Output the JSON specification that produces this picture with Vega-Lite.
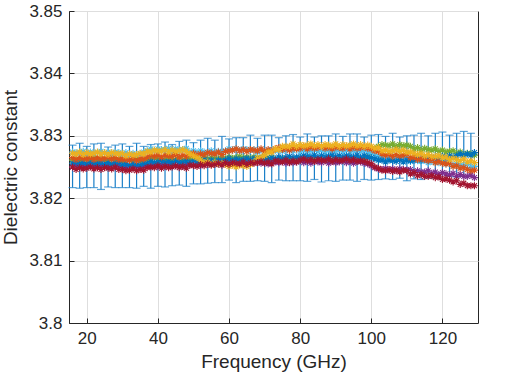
{
  "$schema": "https://vega.github.io/schema/vega-lite/v6.json",
  "autosize": {"type": "none"},
  "padding": {"left": 69, "top": 11, "right": 51, "bottom": 55},
  "width": 409,
  "height": 312,
  "background": "white",
  "config": {
    "view": {"stroke": "#262626", "strokeWidth": 1},
    "font": "Liberation Sans",
    "axis": {
      "labelFont": "Liberation Sans",
      "titleFont": "Liberation Sans",
      "labelFontSize": 17,
      "titleFontSize": 19,
      "titleFontWeight": "normal",
      "labelColor": "#262626",
      "titleColor": "#262626",
      "domainColor": "#262626",
      "tickColor": "#262626",
      "tickSize": -5,
      "gridColor": "#DEDEDE",
      "gridWidth": 1
    }
  },
  "datasets": {
    "pts": [
      {"f":16,"b":3.8256,"o":3.8265,"y":3.8272,"p":3.8250,"g":3.8261,"c":3.8274,"r":3.8250},
      {"f":17,"b":3.8258,"o":3.8262,"y":3.8271,"p":3.8253,"g":3.8263,"c":3.8273,"r":3.8246},
      {"f":18,"b":3.8255,"o":3.8265,"y":3.8274,"p":3.8251,"g":3.8260,"c":3.8272,"r":3.8249},
      {"f":19,"b":3.8257,"o":3.8264,"y":3.8270,"p":3.8252,"g":3.8263,"c":3.8275,"r":3.8247},
      {"f":20,"b":3.8254,"o":3.8263,"y":3.8273,"p":3.8254,"g":3.8262,"c":3.8271,"r":3.8248},
      {"f":21,"b":3.8257,"o":3.8266,"y":3.8271,"p":3.8251,"g":3.8261,"c":3.8274,"r":3.8250},
      {"f":22,"b":3.8256,"o":3.8262,"y":3.8272,"p":3.8253,"g":3.8264,"c":3.8272,"r":3.8247},
      {"f":23,"b":3.8255,"o":3.8265,"y":3.8274,"p":3.8250,"g":3.8260,"c":3.8273,"r":3.8249},
      {"f":24,"b":3.8258,"o":3.8263,"y":3.8271,"p":3.8253,"g":3.8263,"c":3.8275,"r":3.8246},
      {"f":25,"b":3.8254,"o":3.8264,"y":3.8273,"p":3.8252,"g":3.8261,"c":3.8272,"r":3.8249},
      {"f":26,"b":3.8257,"o":3.8266,"y":3.8270,"p":3.8251,"g":3.8262,"c":3.8274,"r":3.8248},
      {"f":27,"b":3.8255,"o":3.8263,"y":3.8273,"p":3.8254,"g":3.8264,"c":3.8271,"r":3.8247},
      {"f":28,"b":3.8256,"o":3.8265,"y":3.8272,"p":3.8250,"g":3.8261,"c":3.8274,"r":3.8250},
      {"f":29,"b":3.8258,"o":3.8262,"y":3.8271,"p":3.8253,"g":3.8263,"c":3.8273,"r":3.8246},
      {"f":30,"b":3.8253,"o":3.8263,"y":3.8272,"p":3.8249,"g":3.8259,"c":3.8270,"r":3.8246},
      {"f":31,"b":3.8255,"o":3.8262,"y":3.8268,"p":3.8250,"g":3.8262,"c":3.8273,"r":3.8244},
      {"f":32,"b":3.8252,"o":3.8261,"y":3.8271,"p":3.8252,"g":3.8261,"c":3.8269,"r":3.8245},
      {"f":33,"b":3.8255,"o":3.8264,"y":3.8269,"p":3.8249,"g":3.8260,"c":3.8272,"r":3.8247},
      {"f":34,"b":3.8254,"o":3.8260,"y":3.8270,"p":3.8251,"g":3.8263,"c":3.8270,"r":3.8244},
      {"f":35,"b":3.8253,"o":3.8263,"y":3.8272,"p":3.8248,"g":3.8259,"c":3.8271,"r":3.8246},
      {"f":36,"b":3.8256,"o":3.8263,"y":3.8271,"p":3.8251,"g":3.8262,"c":3.8274,"r":3.8245},
      {"f":37,"b":3.8256,"o":3.8266,"y":3.8275,"p":3.8253,"g":3.8262,"c":3.8276,"r":3.8249},
      {"f":38,"b":3.8259,"o":3.8269,"y":3.8274,"p":3.8252,"g":3.8263,"c":3.8279,"r":3.8250},
      {"f":39,"b":3.8257,"o":3.8267,"y":3.8277,"p":3.8255,"g":3.8265,"c":3.8276,"r":3.8249},
      {"f":40,"b":3.8258,"o":3.8269,"y":3.8276,"p":3.8251,"g":3.8262,"c":3.8279,"r":3.8252},
      {"f":41,"b":3.8260,"o":3.8266,"y":3.8275,"p":3.8254,"g":3.8264,"c":3.8278,"r":3.8248},
      {"f":42,"b":3.8257,"o":3.8269,"y":3.8278,"p":3.8252,"g":3.8261,"c":3.8277,"r":3.8251},
      {"f":43,"b":3.8259,"o":3.8268,"y":3.8274,"p":3.8253,"g":3.8264,"c":3.8280,"r":3.8249},
      {"f":44,"b":3.8256,"o":3.8267,"y":3.8277,"p":3.8255,"g":3.8263,"c":3.8276,"r":3.8250},
      {"f":45,"b":3.8259,"o":3.8270,"y":3.8275,"p":3.8252,"g":3.8262,"c":3.8279,"r":3.8252},
      {"f":46,"b":3.8258,"o":3.8266,"y":3.8276,"p":3.8254,"g":3.8265,"c":3.8277,"r":3.8249},
      {"f":47,"b":3.8257,"o":3.8269,"y":3.8278,"p":3.8251,"g":3.8261,"c":3.8278,"r":3.8251},
      {"f":48,"b":3.8260,"o":3.8267,"y":3.8275,"p":3.8254,"g":3.8264,"c":3.8280,"r":3.8248},
      {"f":49,"b":3.8257,"o":3.8270,"y":3.8271,"p":3.8254,"g":3.8263,"c":3.8274,"r":3.8253},
      {"f":50,"b":3.8260,"o":3.8272,"y":3.8268,"p":3.8253,"g":3.8264,"c":3.8276,"r":3.8252},
      {"f":51,"b":3.8258,"o":3.8269,"y":3.8265,"p":3.8256,"g":3.8266,"c":3.8273,"r":3.8251},
      {"f":52,"b":3.8259,"o":3.8271,"y":3.8261,"p":3.8252,"g":3.8263,"c":3.8276,"r":3.8254},
      {"f":53,"b":3.8262,"o":3.8270,"y":3.8257,"p":3.8256,"g":3.8265,"c":3.8274,"r":3.8252},
      {"f":54,"b":3.8259,"o":3.8273,"y":3.8258,"p":3.8254,"g":3.8262,"c":3.8273,"r":3.8255},
      {"f":55,"b":3.8261,"o":3.8272,"y":3.8254,"p":3.8255,"g":3.8265,"c":3.8276,"r":3.8253},
      {"f":56,"b":3.8258,"o":3.8271,"y":3.8257,"p":3.8257,"g":3.8264,"c":3.8272,"r":3.8254},
      {"f":57,"b":3.8261,"o":3.8274,"y":3.8255,"p":3.8254,"g":3.8263,"c":3.8275,"r":3.8256},
      {"f":58,"b":3.8260,"o":3.8270,"y":3.8256,"p":3.8256,"g":3.8266,"c":3.8273,"r":3.8253},
      {"f":59,"b":3.8261,"o":3.8275,"y":3.8254,"p":3.8254,"g":3.8263,"c":3.8276,"r":3.8257},
      {"f":60,"b":3.8264,"o":3.8276,"y":3.8251,"p":3.8257,"g":3.8266,"c":3.8279,"r":3.8254},
      {"f":61,"b":3.8260,"o":3.8277,"y":3.8253,"p":3.8256,"g":3.8264,"c":3.8277,"r":3.8257},
      {"f":62,"b":3.8263,"o":3.8279,"y":3.8250,"p":3.8255,"g":3.8265,"c":3.8279,"r":3.8256},
      {"f":63,"b":3.8261,"o":3.8276,"y":3.8253,"p":3.8258,"g":3.8267,"c":3.8276,"r":3.8255},
      {"f":64,"b":3.8262,"o":3.8278,"y":3.8252,"p":3.8254,"g":3.8264,"c":3.8279,"r":3.8258},
      {"f":65,"b":3.8264,"o":3.8275,"y":3.8251,"p":3.8257,"g":3.8266,"c":3.8278,"r":3.8254},
      {"f":66,"b":3.8261,"o":3.8278,"y":3.8254,"p":3.8255,"g":3.8263,"c":3.8277,"r":3.8257},
      {"f":67,"b":3.8264,"o":3.8277,"y":3.8258,"p":3.8257,"g":3.8266,"c":3.8278,"r":3.8256},
      {"f":68,"b":3.8261,"o":3.8276,"y":3.8264,"p":3.8259,"g":3.8265,"c":3.8274,"r":3.8257},
      {"f":69,"b":3.8264,"o":3.8279,"y":3.8265,"p":3.8256,"g":3.8264,"c":3.8277,"r":3.8259},
      {"f":70,"b":3.8263,"o":3.8275,"y":3.8269,"p":3.8258,"g":3.8267,"c":3.8275,"r":3.8256},
      {"f":71,"b":3.8262,"o":3.8278,"y":3.8274,"p":3.8255,"g":3.8263,"c":3.8276,"r":3.8258},
      {"f":72,"b":3.8265,"o":3.8276,"y":3.8274,"p":3.8258,"g":3.8266,"c":3.8278,"r":3.8255},
      {"f":73,"b":3.8263,"o":3.8279,"y":3.8279,"p":3.8258,"g":3.8261,"c":3.8276,"r":3.8260},
      {"f":74,"b":3.8266,"o":3.8281,"y":3.8278,"p":3.8257,"g":3.8262,"c":3.8278,"r":3.8259},
      {"f":75,"b":3.8264,"o":3.8278,"y":3.8283,"p":3.8260,"g":3.8264,"c":3.8275,"r":3.8258},
      {"f":76,"b":3.8265,"o":3.8280,"y":3.8283,"p":3.8256,"g":3.8261,"c":3.8278,"r":3.8261},
      {"f":77,"b":3.8267,"o":3.8277,"y":3.8283,"p":3.8259,"g":3.8263,"c":3.8277,"r":3.8257},
      {"f":78,"b":3.8264,"o":3.8280,"y":3.8287,"p":3.8257,"g":3.8260,"c":3.8276,"r":3.8260},
      {"f":79,"b":3.8266,"o":3.8279,"y":3.8283,"p":3.8258,"g":3.8263,"c":3.8279,"r":3.8258},
      {"f":80,"b":3.8265,"o":3.8280,"y":3.8286,"p":3.8260,"g":3.8261,"c":3.8274,"r":3.8261},
      {"f":81,"b":3.8268,"o":3.8283,"y":3.8284,"p":3.8257,"g":3.8260,"c":3.8277,"r":3.8263},
      {"f":82,"b":3.8267,"o":3.8279,"y":3.8285,"p":3.8259,"g":3.8263,"c":3.8275,"r":3.8260},
      {"f":83,"b":3.8266,"o":3.8282,"y":3.8287,"p":3.8256,"g":3.8259,"c":3.8276,"r":3.8262},
      {"f":84,"b":3.8269,"o":3.8280,"y":3.8284,"p":3.8259,"g":3.8262,"c":3.8278,"r":3.8259},
      {"f":85,"b":3.8265,"o":3.8281,"y":3.8286,"p":3.8258,"g":3.8260,"c":3.8275,"r":3.8262},
      {"f":86,"b":3.8268,"o":3.8283,"y":3.8283,"p":3.8257,"g":3.8261,"c":3.8277,"r":3.8261},
      {"f":87,"b":3.8266,"o":3.8280,"y":3.8286,"p":3.8260,"g":3.8263,"c":3.8274,"r":3.8260},
      {"f":88,"b":3.8267,"o":3.8282,"y":3.8285,"p":3.8256,"g":3.8260,"c":3.8277,"r":3.8263},
      {"f":89,"b":3.8269,"o":3.8279,"y":3.8284,"p":3.8259,"g":3.8262,"c":3.8276,"r":3.8259},
      {"f":90,"b":3.8266,"o":3.8282,"y":3.8287,"p":3.8257,"g":3.8259,"c":3.8275,"r":3.8262},
      {"f":91,"b":3.8268,"o":3.8281,"y":3.8283,"p":3.8258,"g":3.8262,"c":3.8278,"r":3.8260},
      {"f":92,"b":3.8265,"o":3.8280,"y":3.8286,"p":3.8260,"g":3.8261,"c":3.8274,"r":3.8261},
      {"f":93,"b":3.8268,"o":3.8283,"y":3.8284,"p":3.8257,"g":3.8260,"c":3.8277,"r":3.8263},
      {"f":94,"b":3.8267,"o":3.8279,"y":3.8285,"p":3.8259,"g":3.8263,"c":3.8275,"r":3.8260},
      {"f":95,"b":3.8266,"o":3.8282,"y":3.8287,"p":3.8256,"g":3.8259,"c":3.8276,"r":3.8262},
      {"f":96,"b":3.8269,"o":3.8280,"y":3.8284,"p":3.8259,"g":3.8262,"c":3.8278,"r":3.8259},
      {"f":97,"b":3.8265,"o":3.8281,"y":3.8286,"p":3.8258,"g":3.8260,"c":3.8275,"r":3.8260},
      {"f":98,"b":3.8268,"o":3.8282,"y":3.8283,"p":3.8256,"g":3.8263,"c":3.8277,"r":3.8259},
      {"f":99,"b":3.8266,"o":3.8280,"y":3.8285,"p":3.8255,"g":3.8267,"c":3.8274,"r":3.8257},
      {"f":100,"b":3.8265,"o":3.8279,"y":3.8283,"p":3.8252,"g":3.8273,"c":3.8273,"r":3.8255},
      {"f":101,"b":3.8263,"o":3.8276,"y":3.8280,"p":3.8249,"g":3.8280,"c":3.8270,"r":3.8250},
      {"f":102,"b":3.8261,"o":3.8275,"y":3.8281,"p":3.8247,"g":3.8283,"c":3.8267,"r":3.8248},
      {"f":103,"b":3.8261,"o":3.8271,"y":3.8276,"p":3.8246,"g":3.8286,"c":3.8266,"r":3.8245},
      {"f":104,"b":3.8258,"o":3.8269,"y":3.8277,"p":3.8248,"g":3.8285,"c":3.8262,"r":3.8244},
      {"f":105,"b":3.8261,"o":3.8271,"y":3.8275,"p":3.8245,"g":3.8284,"c":3.8265,"r":3.8246},
      {"f":106,"b":3.8260,"o":3.8267,"y":3.8276,"p":3.8247,"g":3.8287,"c":3.8263,"r":3.8243},
      {"f":107,"b":3.8259,"o":3.8270,"y":3.8278,"p":3.8244,"g":3.8283,"c":3.8264,"r":3.8245},
      {"f":108,"b":3.8262,"o":3.8268,"y":3.8275,"p":3.8247,"g":3.8286,"c":3.8266,"r":3.8242},
      {"f":109,"b":3.8258,"o":3.8269,"y":3.8277,"p":3.8246,"g":3.8284,"c":3.8263,"r":3.8245},
      {"f":110,"b":3.8261,"o":3.8271,"y":3.8274,"p":3.8245,"g":3.8285,"c":3.8265,"r":3.8244},
      {"f":111,"b":3.8260,"o":3.8265,"y":3.8274,"p":3.8246,"g":3.8283,"c":3.8259,"r":3.8239},
      {"f":112,"b":3.8261,"o":3.8266,"y":3.8272,"p":3.8242,"g":3.8279,"c":3.8262,"r":3.8241},
      {"f":113,"b":3.8264,"o":3.8262,"y":3.8270,"p":3.8244,"g":3.8281,"c":3.8260,"r":3.8236},
      {"f":114,"b":3.8261,"o":3.8264,"y":3.8272,"p":3.8242,"g":3.8277,"c":3.8259,"r":3.8238},
      {"f":115,"b":3.8264,"o":3.8262,"y":3.8268,"p":3.8242,"g":3.8280,"c":3.8261,"r":3.8235},
      {"f":116,"b":3.8261,"o":3.8260,"y":3.8270,"p":3.8244,"g":3.8278,"c":3.8257,"r":3.8235},
      {"f":117,"b":3.8265,"o":3.8262,"y":3.8267,"p":3.8240,"g":3.8277,"c":3.8259,"r":3.8236},
      {"f":118,"b":3.8264,"o":3.8257,"y":3.8267,"p":3.8242,"g":3.8279,"c":3.8257,"r":3.8233},
      {"f":119,"b":3.8264,"o":3.8259,"y":3.8268,"p":3.8238,"g":3.8275,"c":3.8257,"r":3.8234},
      {"f":120,"b":3.8267,"o":3.8256,"y":3.8265,"p":3.8241,"g":3.8277,"c":3.8259,"r":3.8230},
      {"f":121,"b":3.8264,"o":3.8255,"y":3.8266,"p":3.8239,"g":3.8274,"c":3.8255,"r":3.8231},
      {"f":122,"b":3.8268,"o":3.8256,"y":3.8262,"p":3.8237,"g":3.8275,"c":3.8256,"r":3.8229},
      {"f":123,"b":3.8266,"o":3.8251,"y":3.8264,"p":3.8240,"g":3.8276,"c":3.8253,"r":3.8226},
      {"f":124,"b":3.8268,"o":3.8252,"y":3.8262,"p":3.8235,"g":3.8272,"c":3.8255,"r":3.8228},
      {"f":125,"b":3.8271,"o":3.8248,"y":3.8260,"p":3.8238,"g":3.8274,"c":3.8253,"r":3.8222},
      {"f":126,"b":3.8269,"o":3.8249,"y":3.8263,"p":3.8235,"g":3.8270,"c":3.8252,"r":3.8224},
      {"f":127,"b":3.8271,"o":3.8246,"y":3.8258,"p":3.8235,"g":3.8272,"c":3.8254,"r":3.8220},
      {"f":128,"b":3.8269,"o":3.8244,"y":3.8260,"p":3.8237,"g":3.8271,"c":3.8249,"r":3.8220},
      {"f":129,"b":3.8273,"o":3.8245,"y":3.8257,"p":3.8233,"g":3.8269,"c":3.8251,"r":3.8220}
    ],
    "err": [
      {"f":16,"lo":3.8217,"hi":3.8285},{"f":18,"lo":3.8216,"hi":3.8288},{"f":20,"lo":3.8217,"hi":3.8283},
      {"f":22,"lo":3.8217,"hi":3.8287},{"f":24,"lo":3.8214,"hi":3.8288},{"f":26,"lo":3.8218,"hi":3.8282},
      {"f":28,"lo":3.8217,"hi":3.8285},{"f":30,"lo":3.8217,"hi":3.8287},{"f":32,"lo":3.8217,"hi":3.8283},
      {"f":34,"lo":3.8216,"hi":3.8288},{"f":36,"lo":3.8219,"hi":3.8283},{"f":38,"lo":3.8216,"hi":3.8286},
      {"f":40,"lo":3.8219,"hi":3.8287},{"f":42,"lo":3.8218,"hi":3.8290},{"f":44,"lo":3.8220,"hi":3.8286},
      {"f":46,"lo":3.8221,"hi":3.8291},{"f":48,"lo":3.8219,"hi":3.8293},{"f":50,"lo":3.8223,"hi":3.8289},
      {"f":52,"lo":3.8223,"hi":3.8293},{"f":54,"lo":3.8224,"hi":3.8296},{"f":56,"lo":3.8225,"hi":3.8293},
      {"f":58,"lo":3.8225,"hi":3.8299},{"f":60,"lo":3.8229,"hi":3.8295},{"f":62,"lo":3.8225,"hi":3.8297},
      {"f":64,"lo":3.8227,"hi":3.8297},{"f":66,"lo":3.8227,"hi":3.8301},{"f":68,"lo":3.8228,"hi":3.8296},
      {"f":70,"lo":3.8227,"hi":3.8301},{"f":72,"lo":3.8225,"hi":3.8301},{"f":74,"lo":3.8229,"hi":3.8297},
      {"f":76,"lo":3.8228,"hi":3.8300},{"f":78,"lo":3.8228,"hi":3.8302},{"f":80,"lo":3.8228,"hi":3.8298},
      {"f":82,"lo":3.8227,"hi":3.8303},{"f":84,"lo":3.8230,"hi":3.8298},{"f":86,"lo":3.8226,"hi":3.8300},
      {"f":88,"lo":3.8228,"hi":3.8300},{"f":90,"lo":3.8227,"hi":3.8303},{"f":92,"lo":3.8229,"hi":3.8299},
      {"f":94,"lo":3.8229,"hi":3.8303},{"f":96,"lo":3.8227,"hi":3.8303},{"f":98,"lo":3.8230,"hi":3.8298},
      {"f":100,"lo":3.8229,"hi":3.8301},{"f":102,"lo":3.8230,"hi":3.8302},{"f":104,"lo":3.8231,"hi":3.8299},
      {"f":106,"lo":3.8230,"hi":3.8304},{"f":108,"lo":3.8232,"hi":3.8298},{"f":110,"lo":3.8228,"hi":3.8300},
      {"f":112,"lo":3.8231,"hi":3.8301},{"f":114,"lo":3.8230,"hi":3.8304},{"f":116,"lo":3.8232,"hi":3.8300},
      {"f":118,"lo":3.8232,"hi":3.8304},{"f":120,"lo":3.8230,"hi":3.8306},{"f":122,"lo":3.8235,"hi":3.8301},
      {"f":124,"lo":3.8234,"hi":3.8304},{"f":126,"lo":3.8235,"hi":3.8307},{"f":128,"lo":3.8236,"hi":3.8304}
    ]
  },
  "encoding": {
    "x": {
      "field": "f", "type": "quantitative",
      "scale": {"domain": [15, 130], "nice": false, "zero": false},
      "axis": {"title": "Frequency (GHz)", "values": [20, 40, 60, 80, 100, 120], "grid": true, "labelPadding": 12, "titlePadding": 6}
    }
  },
  "layer": [
    {
      "data": {"name": "err"},
      "mark": {"type": "rule", "color": "#1A7FC8", "strokeWidth": 1.2},
      "encoding": {
        "y": {"field": "lo", "type": "quantitative",
          "scale": {"domain": [3.8, 3.85], "nice": false, "zero": false},
          "axis": {"title": "Dielectric constant", "values": [3.8, 3.81, 3.82, 3.83, 3.84, 3.85], "format": ".3~g", "grid": true, "labelPadding": 12, "titlePadding": 8}},
        "y2": {"field": "hi"}
      }
    },
    {
      "data": {"name": "err"},
      "mark": {"type": "tick", "orient": "horizontal", "color": "#1A7FC8", "size": 8, "thickness": 1.2},
      "encoding": {"y": {"field": "lo", "type": "quantitative"}}
    },
    {
      "data": {"name": "err"},
      "mark": {"type": "tick", "orient": "horizontal", "color": "#1A7FC8", "size": 8, "thickness": 1.2},
      "encoding": {"y": {"field": "hi", "type": "quantitative"}}
    },
    {
      "data": {"name": "pts"},
      "mark": {"type": "point", "shape": "M-1,0H1M0,-1V1M-0.7,-0.7L0.7,0.7M-0.7,0.7L0.7,-0.7", "filled": false, "size": 50, "strokeWidth": 1.1, "opacity": 1, "color": "#77AC30"},
      "encoding": {"y": {"field": "g", "type": "quantitative"}}
    },
    {
      "data": {"name": "pts"},
      "mark": {"type": "point", "shape": "M-1,0H1M0,-1V1M-0.7,-0.7L0.7,0.7M-0.7,0.7L0.7,-0.7", "filled": false, "size": 50, "strokeWidth": 1.1, "opacity": 1, "color": "#7E2F8E"},
      "encoding": {"y": {"field": "p", "type": "quantitative"}}
    },
    {
      "data": {"name": "pts"},
      "mark": {"type": "point", "shape": "M-1,0H1M0,-1V1M-0.7,-0.7L0.7,0.7M-0.7,0.7L0.7,-0.7", "filled": false, "size": 50, "strokeWidth": 1.1, "opacity": 1, "color": "#4DBEEE"},
      "encoding": {"y": {"field": "c", "type": "quantitative"}}
    },
    {
      "data": {"name": "pts"},
      "mark": {"type": "point", "shape": "M-1,0H1M0,-1V1M-0.7,-0.7L0.7,0.7M-0.7,0.7L0.7,-0.7", "filled": false, "size": 50, "strokeWidth": 1.1, "opacity": 1, "color": "#0072BD"},
      "encoding": {"y": {"field": "b", "type": "quantitative"}}
    },
    {
      "data": {"name": "pts"},
      "mark": {"type": "point", "shape": "M-1,0H1M0,-1V1M-0.7,-0.7L0.7,0.7M-0.7,0.7L0.7,-0.7", "filled": false, "size": 50, "strokeWidth": 1.1, "opacity": 1, "color": "#D95319"},
      "encoding": {"y": {"field": "o", "type": "quantitative"}}
    },
    {
      "data": {"name": "pts"},
      "mark": {"type": "point", "shape": "M-1,0H1M0,-1V1M-0.7,-0.7L0.7,0.7M-0.7,0.7L0.7,-0.7", "filled": false, "size": 50, "strokeWidth": 1.1, "opacity": 1, "color": "#EDB120"},
      "encoding": {"y": {"field": "y", "type": "quantitative"}}
    },
    {
      "data": {"name": "pts"},
      "mark": {"type": "point", "shape": "M-1,0H1M0,-1V1M-0.7,-0.7L0.7,0.7M-0.7,0.7L0.7,-0.7", "filled": false, "size": 50, "strokeWidth": 1.1, "opacity": 1, "color": "#A2142F"},
      "encoding": {"y": {"field": "r", "type": "quantitative"}}
    }
  ]
}
